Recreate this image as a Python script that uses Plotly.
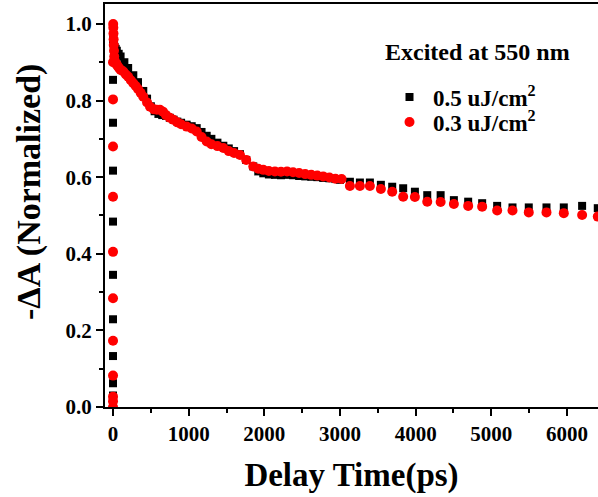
import plotly.graph_objects as go

# ---- data ----
rise_black_x = [0, 0, 0, 0, 0, 0, 0, 0, 0]
rise_black_y = [0.0, 0.03, 0.062, 0.133, 0.229, 0.345, 0.484, 0.617, 0.742]
rise_red_x = [0, 0, 0, 0, 0, 0, 0, 0, 0, 0, 0]
rise_red_y = [0.0, 0.015, 0.027, 0.082, 0.173, 0.284, 0.405, 0.549, 0.68, 0.803, 0.9]

decay_black_x = [0, 3, 6, 10, 20, 35, 50, 75, 100, 150, 200, 268, 330, 400, 450, 500,
                 550, 600, 650, 700, 750, 800, 850, 900, 973, 1040, 1106, 1170, 1238,
                 1300, 1380, 1458, 1530, 1600, 1678, 1760, 1854, 1920, 1986, 2060, 2140,
                 2220, 2300, 2380, 2460, 2540, 2620, 2700, 2778, 2860, 2940, 3000,
                 3131, 3263, 3395, 3540, 3690, 3835, 3990, 4153, 4330, 4505, 4694, 4879,
                 5077, 5280, 5495, 5729, 5958, 6200, 6407]
decay_black_y = [0.854, 0.96, 0.95, 0.945, 0.94, 0.935, 0.93, 0.922, 0.915, 0.9, 0.885,
                 0.866, 0.848, 0.825, 0.805, 0.785, 0.772, 0.765, 0.762, 0.76, 0.755,
                 0.75, 0.745, 0.742, 0.737, 0.733, 0.728, 0.718, 0.708, 0.7, 0.69,
                 0.682, 0.675, 0.668, 0.66, 0.645, 0.628, 0.615, 0.61, 0.607, 0.606,
                 0.605, 0.606, 0.605, 0.603, 0.602, 0.601, 0.6, 0.598, 0.597, 0.595,
                 0.593, 0.588, 0.586, 0.586, 0.58, 0.575, 0.571, 0.562, 0.553, 0.553,
                 0.54, 0.536, 0.532, 0.525, 0.521, 0.521, 0.521, 0.521, 0.525, 0.519]

decay_red_x = [2, 4, 6, 8, 10, 13, 16, 20, 30, 45, 60, 80, 100, 136, 170, 200, 235, 268,
               300, 330, 365, 400, 450, 489, 540, 580, 620, 660, 700, 750, 797, 850,
               900, 973, 1040, 1106, 1170, 1238, 1300, 1380, 1458, 1530, 1600, 1678,
               1760, 1854, 1920, 1986, 2060, 2140, 2220, 2300, 2380, 2460, 2540, 2620,
               2700, 2778, 2860, 2940, 3021, 3131, 3263, 3395, 3540, 3690, 3835, 3990,
               4153, 4330, 4505, 4694, 4879, 5077, 5280, 5495, 5729, 5958, 6200, 6407]
decay_red_y = [1.0, 0.99, 0.975, 0.96, 0.945, 0.93, 0.915, 0.905, 0.9, 0.895, 0.89,
               0.885, 0.88, 0.876, 0.868, 0.862, 0.853, 0.845, 0.838, 0.83, 0.82,
               0.81, 0.795, 0.784, 0.777, 0.776, 0.776, 0.771, 0.762, 0.755, 0.75,
               0.743, 0.738, 0.732, 0.727, 0.719, 0.705, 0.693, 0.686, 0.681, 0.676,
               0.668, 0.663, 0.658, 0.645, 0.628, 0.622, 0.619, 0.616, 0.615, 0.614,
               0.615, 0.613, 0.611, 0.608, 0.606, 0.604, 0.602, 0.599, 0.596, 0.595,
               0.577, 0.577, 0.577, 0.569, 0.562, 0.549, 0.548, 0.536, 0.535, 0.53,
               0.525, 0.523, 0.513, 0.513, 0.508, 0.508, 0.506, 0.501, 0.497]

legend_title = "Excited at 550 nm"
names = ["0.5 uJ/cm<sup>2</sup>", "0.3 uJ/cm<sup>2</sup>"]
x_ticks = [0, 1000, 2000, 3000, 4000, 5000, 6000]
y_ticks = [0.0, 0.2, 0.4, 0.6, 0.8, 1.0]
x_title = "Delay Time(ps)"
y_title = "-ΔA (Normalized)"

FONT = "Liberation Serif"
L, R, T, B, W, H = 105, 0, 4, 90, 598, 497
PW, PH = W - L - R, H - T - B


def px_x(x):
    return (x - L) / PW


def px_y(y):
    return (H - B - y) / PH


fig = go.Figure()
fig.add_trace(go.Scatter(
    x=rise_black_x + decay_black_x, y=rise_black_y + decay_black_y,
    mode="markers", name=names[0], legend="legend",
    marker=dict(symbol="square", size=8, color="black"),
))
fig.add_trace(go.Scatter(
    x=rise_red_x + decay_red_x, y=rise_red_y + decay_red_y,
    mode="markers", name=names[1], legend="legend2",
    marker=dict(symbol="circle", size=10, color="#ff0000"),
))

leg_common = dict(
    xanchor="left", yanchor="middle", bgcolor="rgba(0,0,0,0)",
    font=dict(family=FONT, size=23, color="black", weight="bold"),
    itemsizing="trace", itemwidth=37,
)

fig.update_layout(
    width=W, height=H,
    margin=dict(l=L, r=R, t=T, b=B),
    plot_bgcolor="white", paper_bgcolor="white",
    font=dict(family=FONT, size=21, color="black"),
    showlegend=True,
    legend=dict(x=px_x(386), y=px_y(97), **leg_common),
    legend2=dict(x=px_x(386), y=px_y(122), **leg_common),
    annotations=[
        dict(text="<b>" + legend_title + "</b>", x=px_x(383), y=px_y(52),
             xref="paper", yref="paper", showarrow=False,
             font=dict(family=FONT, size=24, color="black"),
             xanchor="left", yanchor="middle"),
        dict(text="<b>" + y_title + "</b>", x=px_x(29), y=px_y(192),
             xref="paper", yref="paper", showarrow=False, textangle=-90,
             font=dict(family=FONT, size=34, color="black"),
             xanchor="center", yanchor="middle"),
    ],
)

fig.update_xaxes(
    range=[-106, 6410], tickvals=x_ticks, ticktext=[str(v) for v in x_ticks],
    showgrid=False, zeroline=False,
    showline=True, linecolor="black", linewidth=2, mirror=True,
    ticks="outside", ticklen=7, tickwidth=2, tickcolor="black",
    minor=dict(dtick=500, tick0=0, ticks="outside", ticklen=4, tickwidth=2, tickcolor="black"),
    tickfont=dict(family=FONT, size=21, color="black", weight="bold"),
    title=dict(text="<b>" + x_title + "</b>", font=dict(family=FONT, size=33, color="black"), standoff=18),
)
fig.update_yaxes(
    range=[0, 1.052], tickvals=y_ticks, ticktext=["%.1f" % v for v in y_ticks],
    showgrid=False, zeroline=False,
    showline=True, linecolor="black", linewidth=2, mirror=False,
    ticks="outside", ticklen=7, tickwidth=2, tickcolor="black",
    minor=dict(dtick=0.1, tick0=0, ticks="outside", ticklen=4, tickwidth=2, tickcolor="black"),
    tickfont=dict(family=FONT, size=21, color="black", weight="bold"),
)

fig.write_html("out.html")
